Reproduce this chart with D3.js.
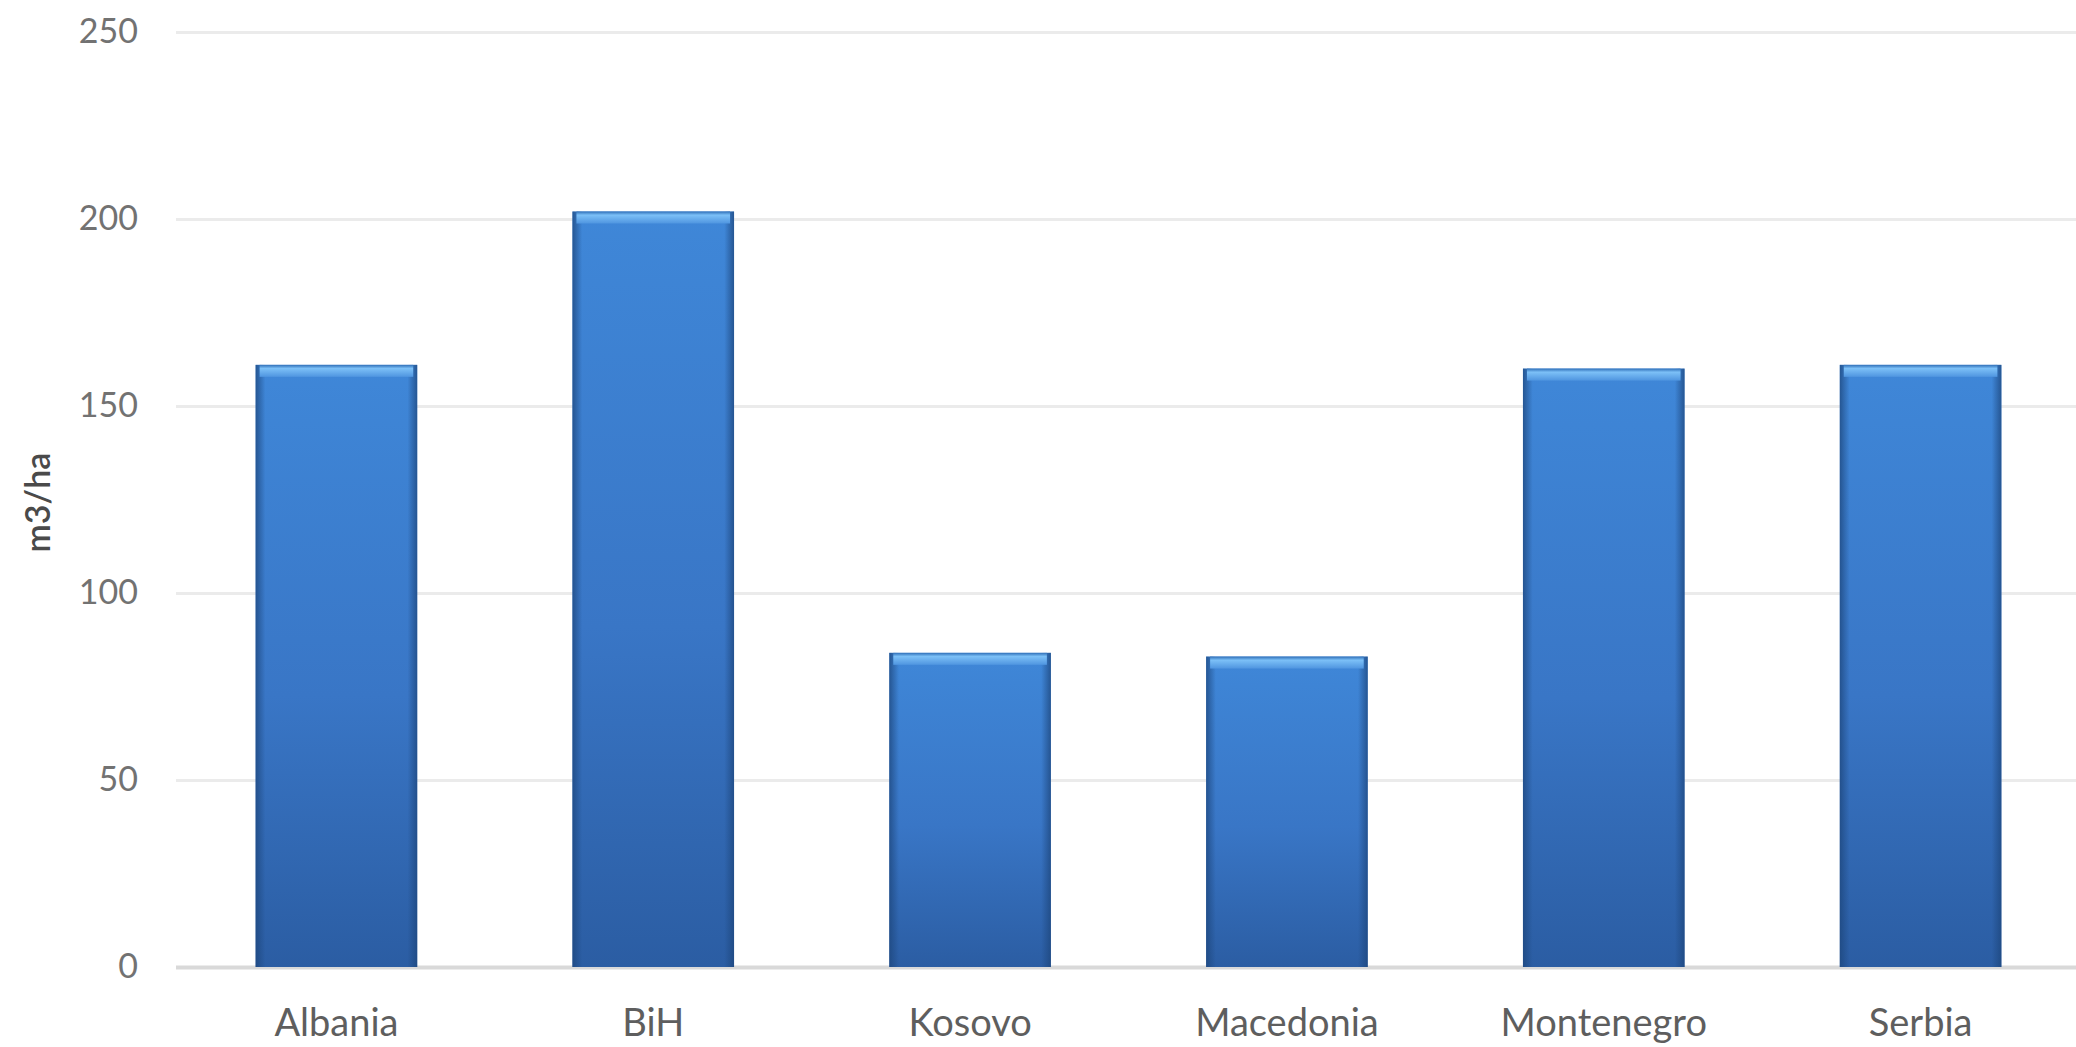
<!DOCTYPE html>
<html><head><meta charset="utf-8">
<script src="https://cdn.jsdelivr.net/npm/d3@7"></script>
<style>html,body{margin:0;padding:0;background:#fff;overflow:hidden}</style>
</head><body><svg id="c" width="2076" height="1047"></svg>
<script>
const categories = ["Albania","BiH","Kosovo","Macedonia","Montenegro","Serbia"];
const values = [161, 202, 84, 83, 160, 161];
const yTicks = [0, 50, 100, 150, 200, 250];
const yTitle = "m3/ha";

const svg = d3.select("#c");
const W = 2076, H = 1047;
const m = {left: 178, right: -3, top: 32, bottom: 80};
const x = d3.scaleBand().domain(categories).range([m.left, W - m.right]).paddingInner(0.49).paddingOuter(0.245);
const y = d3.scaleLinear().domain([0, 250]).range([H - m.bottom, m.top]);

const defs = svg.append("defs");
const gv = defs.append("linearGradient").attr("id","gv").attr("x1",0).attr("x2",0).attr("y1",0).attr("y2",1);
gv.append("stop").attr("offset","0%").attr("stop-color","#3f87d8");
gv.append("stop").attr("offset","55%").attr("stop-color","#3976c6");
gv.append("stop").attr("offset","100%").attr("stop-color","#2b5da3");
const gh = defs.append("linearGradient").attr("id","gh").attr("x1",0).attr("x2",1).attr("y1",0).attr("y2",0);
gh.append("stop").attr("offset","0%").attr("stop-color","#1d467c").attr("stop-opacity",0.75);
gh.append("stop").attr("offset","6%").attr("stop-color","#1d467c").attr("stop-opacity",0.0);
gh.append("stop").attr("offset","94%").attr("stop-color","#1d467c").attr("stop-opacity",0.0);
gh.append("stop").attr("offset","100%").attr("stop-color","#1d467c").attr("stop-opacity",0.75);
const gt = defs.append("linearGradient").attr("id","gt").attr("x1",0).attr("x2",0).attr("y1",0).attr("y2",1);
gt.append("stop").attr("offset","0%").attr("stop-color","#2f6fb8");
gt.append("stop").attr("offset","30%").attr("stop-color","#7cc0f7");
gt.append("stop").attr("offset","100%").attr("stop-color","#4f95e0");

// gridlines
const yAxis = d3.axisLeft(y).tickValues(yTicks).tickSize(-(W - 176)).tickPadding(38);
const ga = svg.append("g").attr("transform", `translate(176,0)`).call(yAxis);
ga.select(".domain").remove();
ga.selectAll(".tick line").attr("stroke", d => d === 0 ? "#d9d9d9" : "#ebebeb").attr("stroke-width", d => d === 0 ? 4 : 3);
ga.selectAll(".tick text").attr("fill","#727272").style("font-family","Lato, 'Open Sans', sans-serif").style("font-size","34px");

// bars
const bars = svg.append("g").selectAll("g").data(categories).join("g");
bars.append("rect").attr("x", d => x(d)).attr("width", x.bandwidth())
  .attr("y", (d,i) => y(values[i])).attr("height", (d,i) => y(0) - y(values[i])).attr("fill","url(#gv)");
bars.append("rect").attr("x", d => x(d)).attr("width", x.bandwidth())
  .attr("y", (d,i) => y(values[i])).attr("height", (d,i) => y(0) - y(values[i])).attr("fill","url(#gh)");
bars.append("rect").attr("x", d => x(d) + 4).attr("width", x.bandwidth() - 8)
  .attr("y", (d,i) => y(values[i])).attr("height", 12).attr("fill","url(#gt)");

// x labels
const xAxis = d3.axisBottom(x).tickSize(0).tickPadding(42);
const gx = svg.append("g").attr("transform", `translate(0,${y(0)})`).call(xAxis);
gx.select(".domain").remove();
gx.selectAll(".tick text").attr("fill","#5e5e5e").style("font-family","Lato, 'Open Sans', sans-serif").style("font-size","38px");

// y title
svg.append("text").attr("transform", `translate(50,${(y(0)+y(250))/2 + 3}) rotate(-90)`)
  .attr("text-anchor","middle").attr("fill","#4a4a4a")
  .style("font-family","Lato, 'Open Sans', sans-serif").style("font-size","34px").style("font-weight","600")
  .text(yTitle);
</script></body></html>
